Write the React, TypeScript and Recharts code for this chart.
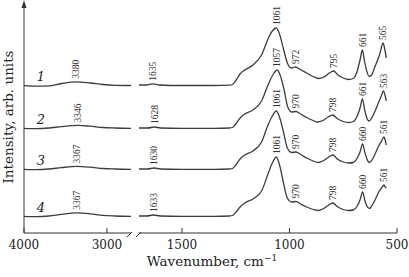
import { LineChart, Line, XAxis, YAxis, ReferenceDot } from "recharts";

// IR spectra, 4 samples. [wavenumber, intensity] pairs, intensity in arb. units
const curve1Left: [number, number][] = [
  [4000, -0.7], [3850, -1.2], [3700, -0.8], [3550, 1.5], [3380, 3.2],
  [3200, 2], [3050, 0.5], [2900, -0.3], [2710, -0.5],
];
const curve2Left: [number, number][] = [
  [4000, -0.3], [3850, -0.6], [3700, 0], [3550, 1.4], [3346, 2.6],
  [3200, 1.8], [3050, 0.5], [2900, 0], [2710, -0.3],
];
const curve3Left: [number, number][] = [
  [4000, -0.3], [3850, -0.6], [3700, 0], [3550, 1.4], [3367, 2.6],
  [3200, 1.8], [3050, 0.5], [2900, 0], [2710, -0.3],
];
const curve4Left: [number, number][] = [
  [4000, -0.3], [3850, -0.6], [3700, 0], [3550, 1.6], [3367, 3.2],
  [3200, 2.2], [3050, 0.6], [2900, 0], [2710, -0.3],
];

const curve1Right: [number, number][] = [
  [1700, 0], [1665, 0], [1635, 1.2], [1605, 0], [1500, -0.5], [1350, -0.5], [1280, -0.2],
  [1265, 0.5], [1248, 5], [1230, 11], [1208, 15], [1170, 20], [1130, 30], [1100, 46],
  [1080, 54], [1061, 57], [1045, 50], [1028, 36], [1010, 22], [992, 17], [972, 18],
  [950, 15.5], [920, 12], [890, 8.5], [865, 6.5], [840, 8], [815, 12], [795, 14],
  [775, 10], [750, 7], [725, 5.5], [703, 6.5], [685, 14], [672, 25], [661, 35],
  [652, 25], [642, 15], [630, 8.5], [618, 10], [605, 17], [592, 24], [580, 31],
  [565, 42], [558, 37], [550, 27],
];
const curve2Right: [number, number][] = [
  [1700, 0], [1660, 0], [1628, 1], [1600, 0], [1500, -0.3], [1350, -0.3], [1280, 0],
  [1265, 0.5], [1248, 4.5], [1230, 10], [1208, 14], [1170, 18], [1130, 27], [1100, 43],
  [1075, 54], [1057, 58], [1042, 52], [1025, 38], [1008, 21], [990, 16], [970, 16.5],
  [948, 14], [920, 10.5], [890, 7.5], [870, 6], [845, 7.5], [820, 11], [798, 13],
  [778, 9.5], [750, 6.5], [725, 5.5], [703, 6.5], [685, 12], [672, 20], [661, 29],
  [652, 20], [642, 11], [630, 7], [615, 11], [600, 18], [585, 26], [573, 32],
  [563, 37], [556, 33], [550, 27],
];
const curve3Right: [number, number][] = [
  [1700, 0], [1660, 0], [1630, 1], [1600, 0], [1500, -0.3], [1350, -0.3], [1280, 0],
  [1265, 0.5], [1248, 4.5], [1230, 10], [1208, 14], [1170, 18], [1130, 27], [1100, 44],
  [1080, 53], [1061, 58], [1045, 51], [1028, 37], [1010, 21], [990, 16.5], [970, 17],
  [948, 14.5], [920, 11], [890, 8], [868, 6.5], [845, 8], [820, 11.5], [798, 14],
  [778, 10], [750, 7], [725, 6], [703, 6.5], [685, 11], [672, 17], [660, 25],
  [650, 17], [640, 10], [628, 6.5], [615, 9.5], [600, 16], [585, 23], [572, 28],
  [561, 32], [555, 29], [550, 24],
];
const curve4Right: [number, number][] = [
  [1700, 0], [1665, 0], [1633, 1], [1600, 0], [1500, -0.3], [1350, -0.3], [1280, 0],
  [1265, 0.5], [1248, 4], [1230, 9], [1208, 13], [1170, 17], [1130, 25], [1100, 42],
  [1080, 53], [1061, 59], [1045, 50], [1028, 33], [1010, 18], [990, 14], [970, 14.5],
  [948, 12], [920, 9], [890, 6.5], [868, 5.5], [845, 7], [820, 10.5], [798, 13],
  [778, 9.5], [750, 6.5], [725, 5.5], [703, 6], [685, 10], [672, 16], [660, 24],
  [650, 16], [640, 10], [628, 7.5], [615, 11], [600, 17], [585, 24], [572, 28],
  [561, 31], [555, 29], [550, 28],
];

// vertical stacking of the spectra
const curveOffsets = [148, 105, 64, 17];
const curveNames = ["1", "2", "3", "4"];

// annotated band positions
const leftPeaks = [3380, 3346, 3367, 3367];
const rightPeaks = [
  [1635, 1061, 972, 795, 661, 565],
  [1628, 1057, 970, 798, 661, 563],
  [1630, 1061, 970, 798, 660, 561],
  [1633, 1061, 970, 798, 660, 561],
];

const leftTicks = [4000, 3000];
const rightTicks = [1500, 1000, 500];

const leftCurves = [curve1Left, curve2Left, curve3Left, curve4Left];
const rightCurves = [curve1Right, curve2Right, curve3Right, curve4Right];

const FONT = "DejaVu Serif";
const SMALL_FONT = "Liberation Serif";
const INK = "#333";
const LINE = "#3c3c3c";
const Y_DOMAIN: [number, number] = [0, 228];

const toRows = (pts: [number, number][], off: number) =>
  pts.map(([wn, v]) => ({ wn, y: off + v }));
const valueAt = (pts: [number, number][], wn: number) =>
  (pts.find((p) => p[0] === wn) || [wn, 0])[1];

const AxisTick = (props: any) => {
  const { x, y, payload } = props;
  return (
    <g>
      <line x1={x} y1={y} x2={x} y2={y - 5} stroke={INK} strokeWidth={1} />
      <text x={x} y={y + 16} textAnchor="middle" fontSize={12} fontFamily={FONT} fill="#222">
        {payload.value}
      </text>
    </g>
  );
};

const peakShape = (label: string) => (p: any) => (
  <text
    transform={`rotate(-90, ${p.cx}, ${p.cy - 3})`}
    x={p.cx}
    y={p.cy - 3}
    dy="0.33em"
    textAnchor="start"
    fontSize={9.5}
    fontFamily={SMALL_FONT}
    fill="#333"
  >
    {label}
  </text>
);

const nameShape = (label: string) => (p: any) => (
  <text
    x={p.cx}
    y={p.cy - 4}
    textAnchor="middle"
    fontSize={13}
    fontStyle="italic"
    fontFamily={FONT}
    fill="#222"
  >
    {label}
  </text>
);

export default function App() {
  return (
    <div style={{ position: "absolute", left: 0, top: 0, width: 409, height: 277, background: "#fff" }}>
      {/* high-wavenumber part */}
      <div style={{ position: "absolute", left: 0, top: 0 }}>
        <LineChart width={409} height={277} margin={{ top: 5, right: 278, bottom: 14, left: 0 }}>
          <XAxis
            type="number"
            dataKey="wn"
            domain={[2710, 4000]}
            reversed
            ticks={leftTicks}
            interval={0}
            height={30}
            tickSize={0}
            tickMargin={0}
            tickLine={false}
            tick={<AxisTick />}
            axisLine={{ stroke: INK }}
            allowDataOverflow
          />
          <YAxis width={24} domain={Y_DOMAIN} tick={false} tickLine={false} axisLine={{ stroke: INK }} allowDataOverflow />
          {leftCurves.map((pts, i) => (
            <Line
              key={"l" + i}
              data={toRows(pts, curveOffsets[i])}
              dataKey="y"
              type="monotone"
              stroke={LINE}
              strokeWidth={1.3}
              dot={false}
              isAnimationActive={false}
            />
          ))}
          {leftCurves.map((pts, i) => (
            <ReferenceDot
              key={"lp" + i}
              x={leftPeaks[i]}
              y={curveOffsets[i] + valueAt(pts, leftPeaks[i])}
              r={0}
              ifOverflow="visible"
              shape={peakShape(String(leftPeaks[i]))}
            />
          ))}
          {curveNames.map((n, i) => (
            <ReferenceDot key={"n" + i} x={3795} y={curveOffsets[i]} r={0} ifOverflow="visible" shape={nameShape(n)} />
          ))}
        </LineChart>
      </div>
      {/* fingerprint part */}
      <div style={{ position: "absolute", left: 0, top: 0 }}>
        <LineChart width={409} height={277} margin={{ top: 5, right: 12, bottom: 14, left: 139 }}>
          <XAxis
            type="number"
            dataKey="wn"
            domain={[500, 1700]}
            reversed
            ticks={rightTicks}
            interval={0}
            height={30}
            tickSize={0}
            tickMargin={0}
            tickLine={false}
            tick={<AxisTick />}
            axisLine={{ stroke: INK }}
            allowDataOverflow
          />
          <YAxis hide domain={Y_DOMAIN} allowDataOverflow />
          {rightCurves.map((pts, i) => (
            <Line
              key={"r" + i}
              data={toRows(pts, curveOffsets[i])}
              dataKey="y"
              type="monotone"
              stroke={LINE}
              strokeWidth={1.3}
              dot={false}
              isAnimationActive={false}
            />
          ))}
          {rightCurves.map((pts, i) =>
            rightPeaks[i].map((wn) => (
              <ReferenceDot
                key={"rp" + i + "-" + wn}
                x={wn}
                y={curveOffsets[i] + valueAt(pts, wn)}
                r={0}
                ifOverflow="visible"
                shape={peakShape(String(wn))}
              />
            ))
          )}
        </LineChart>
      </div>
      {/* axis decorations and titles */}
      <svg width={409} height={277} style={{ position: "absolute", left: 0, top: 0, pointerEvents: "none" }}>
        <polygon points="24,0 21.5,8 26.5,8" fill={INK} />
        <line x1={127} y1={237} x2={132} y2={232} stroke={INK} strokeWidth={1} />
        <line x1={136} y1={237} x2={141} y2={232} stroke={INK} strokeWidth={1} />
        <text transform="translate(13,117) rotate(-90)" textAnchor="middle" fontSize={13.5} fontFamily={FONT} fill="#222">
          Intensity, arb. units
        </text>
        <text x={212} y={266} textAnchor="middle" fontSize={13.5} fontFamily={FONT} fill="#222">
          Wavenumber, cm
          <tspan dy={-5} fontSize={9}>−1</tspan>
        </text>
      </svg>
    </div>
  );
}
